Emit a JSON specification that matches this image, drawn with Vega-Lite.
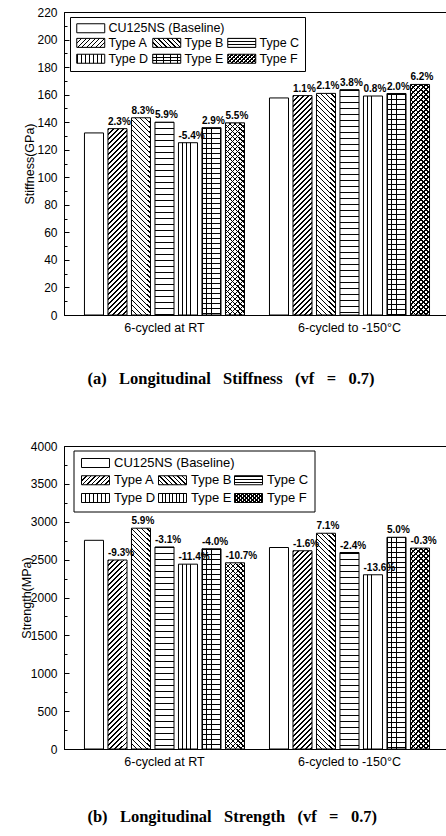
{
"$schema": "https://vega.github.io/schema/vega-lite/v6.json",
"background": "white",
"padding": {"left": 19, "top": 5, "right": 0, "bottom": 0},
"params": [
{"name": "sD", "value": [
{"offset":0,"color":"#000"},{"offset":0.006,"color":"#000"},{"offset":0.006,"color":"transparent"},{"offset":0.02,"color":"transparent"},
{"offset":0.02,"color":"#000"},{"offset":0.026,"color":"#000"},{"offset":0.026,"color":"transparent"},{"offset":0.04,"color":"transparent"},
{"offset":0.04,"color":"#000"},{"offset":0.046,"color":"#000"},{"offset":0.046,"color":"transparent"},{"offset":0.06,"color":"transparent"},
{"offset":0.06,"color":"#000"},{"offset":0.066,"color":"#000"},{"offset":0.066,"color":"transparent"},{"offset":0.08,"color":"transparent"},
{"offset":0.08,"color":"#000"},{"offset":0.086,"color":"#000"},{"offset":0.086,"color":"transparent"},{"offset":0.1,"color":"transparent"},
{"offset":0.1,"color":"#000"},{"offset":0.106,"color":"#000"},{"offset":0.106,"color":"transparent"},{"offset":0.12,"color":"transparent"},
{"offset":0.12,"color":"#000"},{"offset":0.126,"color":"#000"},{"offset":0.126,"color":"transparent"},{"offset":0.14,"color":"transparent"},
{"offset":0.14,"color":"#000"},{"offset":0.146,"color":"#000"},{"offset":0.146,"color":"transparent"},{"offset":0.16,"color":"transparent"},
{"offset":0.16,"color":"#000"},{"offset":0.166,"color":"#000"},{"offset":0.166,"color":"transparent"},{"offset":0.18,"color":"transparent"},
{"offset":0.18,"color":"#000"},{"offset":0.186,"color":"#000"},{"offset":0.186,"color":"transparent"},{"offset":0.2,"color":"transparent"},
{"offset":0.2,"color":"#000"},{"offset":0.206,"color":"#000"},{"offset":0.206,"color":"transparent"},{"offset":0.22,"color":"transparent"},
{"offset":0.22,"color":"#000"},{"offset":0.226,"color":"#000"},{"offset":0.226,"color":"transparent"},{"offset":0.24,"color":"transparent"},
{"offset":0.24,"color":"#000"},{"offset":0.246,"color":"#000"},{"offset":0.246,"color":"transparent"},{"offset":0.26,"color":"transparent"},
{"offset":0.26,"color":"#000"},{"offset":0.266,"color":"#000"},{"offset":0.266,"color":"transparent"},{"offset":0.28,"color":"transparent"},
{"offset":0.28,"color":"#000"},{"offset":0.286,"color":"#000"},{"offset":0.286,"color":"transparent"},{"offset":0.3,"color":"transparent"},
{"offset":0.3,"color":"#000"},{"offset":0.306,"color":"#000"},{"offset":0.306,"color":"transparent"},{"offset":0.32,"color":"transparent"},
{"offset":0.32,"color":"#000"},{"offset":0.326,"color":"#000"},{"offset":0.326,"color":"transparent"},{"offset":0.34,"color":"transparent"},
{"offset":0.34,"color":"#000"},{"offset":0.346,"color":"#000"},{"offset":0.346,"color":"transparent"},{"offset":0.36,"color":"transparent"},
{"offset":0.36,"color":"#000"},{"offset":0.366,"color":"#000"},{"offset":0.366,"color":"transparent"},{"offset":0.38,"color":"transparent"},
{"offset":0.38,"color":"#000"},{"offset":0.386,"color":"#000"},{"offset":0.386,"color":"transparent"},{"offset":0.4,"color":"transparent"},
{"offset":0.4,"color":"#000"},{"offset":0.406,"color":"#000"},{"offset":0.406,"color":"transparent"},{"offset":0.42,"color":"transparent"},
{"offset":0.42,"color":"#000"},{"offset":0.426,"color":"#000"},{"offset":0.426,"color":"transparent"},{"offset":0.44,"color":"transparent"},
{"offset":0.44,"color":"#000"},{"offset":0.446,"color":"#000"},{"offset":0.446,"color":"transparent"},{"offset":0.46,"color":"transparent"},
{"offset":0.46,"color":"#000"},{"offset":0.466,"color":"#000"},{"offset":0.466,"color":"transparent"},{"offset":0.48,"color":"transparent"},
{"offset":0.48,"color":"#000"},{"offset":0.486,"color":"#000"},{"offset":0.486,"color":"transparent"},{"offset":0.5,"color":"transparent"},
{"offset":0.5,"color":"#000"},{"offset":0.506,"color":"#000"},{"offset":0.506,"color":"transparent"},{"offset":0.52,"color":"transparent"},
{"offset":0.52,"color":"#000"},{"offset":0.526,"color":"#000"},{"offset":0.526,"color":"transparent"},{"offset":0.54,"color":"transparent"},
{"offset":0.54,"color":"#000"},{"offset":0.546,"color":"#000"},{"offset":0.546,"color":"transparent"},{"offset":0.56,"color":"transparent"},
{"offset":0.56,"color":"#000"},{"offset":0.566,"color":"#000"},{"offset":0.566,"color":"transparent"},{"offset":0.58,"color":"transparent"},
{"offset":0.58,"color":"#000"},{"offset":0.586,"color":"#000"},{"offset":0.586,"color":"transparent"},{"offset":0.6,"color":"transparent"},
{"offset":0.6,"color":"#000"},{"offset":0.606,"color":"#000"},{"offset":0.606,"color":"transparent"},{"offset":0.62,"color":"transparent"},
{"offset":0.62,"color":"#000"},{"offset":0.626,"color":"#000"},{"offset":0.626,"color":"transparent"},{"offset":0.64,"color":"transparent"},
{"offset":0.64,"color":"#000"},{"offset":0.646,"color":"#000"},{"offset":0.646,"color":"transparent"},{"offset":0.66,"color":"transparent"},
{"offset":0.66,"color":"#000"},{"offset":0.666,"color":"#000"},{"offset":0.666,"color":"transparent"},{"offset":0.68,"color":"transparent"},
{"offset":0.68,"color":"#000"},{"offset":0.686,"color":"#000"},{"offset":0.686,"color":"transparent"},{"offset":0.7,"color":"transparent"},
{"offset":0.7,"color":"#000"},{"offset":0.706,"color":"#000"},{"offset":0.706,"color":"transparent"},{"offset":0.72,"color":"transparent"},
{"offset":0.72,"color":"#000"},{"offset":0.726,"color":"#000"},{"offset":0.726,"color":"transparent"},{"offset":0.74,"color":"transparent"},
{"offset":0.74,"color":"#000"},{"offset":0.746,"color":"#000"},{"offset":0.746,"color":"transparent"},{"offset":0.76,"color":"transparent"},
{"offset":0.76,"color":"#000"},{"offset":0.766,"color":"#000"},{"offset":0.766,"color":"transparent"},{"offset":0.78,"color":"transparent"},
{"offset":0.78,"color":"#000"},{"offset":0.786,"color":"#000"},{"offset":0.786,"color":"transparent"},{"offset":0.8,"color":"transparent"},
{"offset":0.8,"color":"#000"},{"offset":0.806,"color":"#000"},{"offset":0.806,"color":"transparent"},{"offset":0.82,"color":"transparent"},
{"offset":0.82,"color":"#000"},{"offset":0.826,"color":"#000"},{"offset":0.826,"color":"transparent"},{"offset":0.84,"color":"transparent"},
{"offset":0.84,"color":"#000"},{"offset":0.846,"color":"#000"},{"offset":0.846,"color":"transparent"},{"offset":0.86,"color":"transparent"},
{"offset":0.86,"color":"#000"},{"offset":0.866,"color":"#000"},{"offset":0.866,"color":"transparent"},{"offset":0.88,"color":"transparent"},
{"offset":0.88,"color":"#000"},{"offset":0.886,"color":"#000"},{"offset":0.886,"color":"transparent"},{"offset":0.9,"color":"transparent"},
{"offset":0.9,"color":"#000"},{"offset":0.906,"color":"#000"},{"offset":0.906,"color":"transparent"},{"offset":0.92,"color":"transparent"},
{"offset":0.92,"color":"#000"},{"offset":0.926,"color":"#000"},{"offset":0.926,"color":"transparent"},{"offset":0.94,"color":"transparent"},
{"offset":0.94,"color":"#000"},{"offset":0.946,"color":"#000"},{"offset":0.946,"color":"transparent"},{"offset":0.96,"color":"transparent"},
{"offset":0.96,"color":"#000"},{"offset":0.966,"color":"#000"},{"offset":0.966,"color":"transparent"},{"offset":0.98,"color":"transparent"},
{"offset":0.98,"color":"#000"},{"offset":0.986,"color":"#000"},{"offset":0.986,"color":"transparent"},{"offset":1,"color":"transparent"}
]},
{"name": "sH", "value": [
{"offset":0,"color":"#000"},{"offset":0.004,"color":"#000"},{"offset":0.004,"color":"transparent"},{"offset":0.02,"color":"transparent"},
{"offset":0.02,"color":"#000"},{"offset":0.024,"color":"#000"},{"offset":0.024,"color":"transparent"},{"offset":0.04,"color":"transparent"},
{"offset":0.04,"color":"#000"},{"offset":0.044,"color":"#000"},{"offset":0.044,"color":"transparent"},{"offset":0.06,"color":"transparent"},
{"offset":0.06,"color":"#000"},{"offset":0.064,"color":"#000"},{"offset":0.064,"color":"transparent"},{"offset":0.08,"color":"transparent"},
{"offset":0.08,"color":"#000"},{"offset":0.084,"color":"#000"},{"offset":0.084,"color":"transparent"},{"offset":0.1,"color":"transparent"},
{"offset":0.1,"color":"#000"},{"offset":0.104,"color":"#000"},{"offset":0.104,"color":"transparent"},{"offset":0.12,"color":"transparent"},
{"offset":0.12,"color":"#000"},{"offset":0.124,"color":"#000"},{"offset":0.124,"color":"transparent"},{"offset":0.14,"color":"transparent"},
{"offset":0.14,"color":"#000"},{"offset":0.144,"color":"#000"},{"offset":0.144,"color":"transparent"},{"offset":0.16,"color":"transparent"},
{"offset":0.16,"color":"#000"},{"offset":0.164,"color":"#000"},{"offset":0.164,"color":"transparent"},{"offset":0.18,"color":"transparent"},
{"offset":0.18,"color":"#000"},{"offset":0.184,"color":"#000"},{"offset":0.184,"color":"transparent"},{"offset":0.2,"color":"transparent"},
{"offset":0.2,"color":"#000"},{"offset":0.204,"color":"#000"},{"offset":0.204,"color":"transparent"},{"offset":0.22,"color":"transparent"},
{"offset":0.22,"color":"#000"},{"offset":0.224,"color":"#000"},{"offset":0.224,"color":"transparent"},{"offset":0.24,"color":"transparent"},
{"offset":0.24,"color":"#000"},{"offset":0.244,"color":"#000"},{"offset":0.244,"color":"transparent"},{"offset":0.26,"color":"transparent"},
{"offset":0.26,"color":"#000"},{"offset":0.264,"color":"#000"},{"offset":0.264,"color":"transparent"},{"offset":0.28,"color":"transparent"},
{"offset":0.28,"color":"#000"},{"offset":0.284,"color":"#000"},{"offset":0.284,"color":"transparent"},{"offset":0.3,"color":"transparent"},
{"offset":0.3,"color":"#000"},{"offset":0.304,"color":"#000"},{"offset":0.304,"color":"transparent"},{"offset":0.32,"color":"transparent"},
{"offset":0.32,"color":"#000"},{"offset":0.324,"color":"#000"},{"offset":0.324,"color":"transparent"},{"offset":0.34,"color":"transparent"},
{"offset":0.34,"color":"#000"},{"offset":0.344,"color":"#000"},{"offset":0.344,"color":"transparent"},{"offset":0.36,"color":"transparent"},
{"offset":0.36,"color":"#000"},{"offset":0.364,"color":"#000"},{"offset":0.364,"color":"transparent"},{"offset":0.38,"color":"transparent"},
{"offset":0.38,"color":"#000"},{"offset":0.384,"color":"#000"},{"offset":0.384,"color":"transparent"},{"offset":0.4,"color":"transparent"},
{"offset":0.4,"color":"#000"},{"offset":0.404,"color":"#000"},{"offset":0.404,"color":"transparent"},{"offset":0.42,"color":"transparent"},
{"offset":0.42,"color":"#000"},{"offset":0.424,"color":"#000"},{"offset":0.424,"color":"transparent"},{"offset":0.44,"color":"transparent"},
{"offset":0.44,"color":"#000"},{"offset":0.444,"color":"#000"},{"offset":0.444,"color":"transparent"},{"offset":0.46,"color":"transparent"},
{"offset":0.46,"color":"#000"},{"offset":0.464,"color":"#000"},{"offset":0.464,"color":"transparent"},{"offset":0.48,"color":"transparent"},
{"offset":0.48,"color":"#000"},{"offset":0.484,"color":"#000"},{"offset":0.484,"color":"transparent"},{"offset":0.5,"color":"transparent"},
{"offset":0.5,"color":"#000"},{"offset":0.504,"color":"#000"},{"offset":0.504,"color":"transparent"},{"offset":0.52,"color":"transparent"},
{"offset":0.52,"color":"#000"},{"offset":0.524,"color":"#000"},{"offset":0.524,"color":"transparent"},{"offset":0.54,"color":"transparent"},
{"offset":0.54,"color":"#000"},{"offset":0.544,"color":"#000"},{"offset":0.544,"color":"transparent"},{"offset":0.56,"color":"transparent"},
{"offset":0.56,"color":"#000"},{"offset":0.564,"color":"#000"},{"offset":0.564,"color":"transparent"},{"offset":0.58,"color":"transparent"},
{"offset":0.58,"color":"#000"},{"offset":0.584,"color":"#000"},{"offset":0.584,"color":"transparent"},{"offset":0.6,"color":"transparent"},
{"offset":0.6,"color":"#000"},{"offset":0.604,"color":"#000"},{"offset":0.604,"color":"transparent"},{"offset":0.62,"color":"transparent"},
{"offset":0.62,"color":"#000"},{"offset":0.624,"color":"#000"},{"offset":0.624,"color":"transparent"},{"offset":0.64,"color":"transparent"},
{"offset":0.64,"color":"#000"},{"offset":0.644,"color":"#000"},{"offset":0.644,"color":"transparent"},{"offset":0.66,"color":"transparent"},
{"offset":0.66,"color":"#000"},{"offset":0.664,"color":"#000"},{"offset":0.664,"color":"transparent"},{"offset":0.68,"color":"transparent"},
{"offset":0.68,"color":"#000"},{"offset":0.684,"color":"#000"},{"offset":0.684,"color":"transparent"},{"offset":0.7,"color":"transparent"},
{"offset":0.7,"color":"#000"},{"offset":0.704,"color":"#000"},{"offset":0.704,"color":"transparent"},{"offset":0.72,"color":"transparent"},
{"offset":0.72,"color":"#000"},{"offset":0.724,"color":"#000"},{"offset":0.724,"color":"transparent"},{"offset":0.74,"color":"transparent"},
{"offset":0.74,"color":"#000"},{"offset":0.744,"color":"#000"},{"offset":0.744,"color":"transparent"},{"offset":0.76,"color":"transparent"},
{"offset":0.76,"color":"#000"},{"offset":0.764,"color":"#000"},{"offset":0.764,"color":"transparent"},{"offset":0.78,"color":"transparent"},
{"offset":0.78,"color":"#000"},{"offset":0.784,"color":"#000"},{"offset":0.784,"color":"transparent"},{"offset":0.8,"color":"transparent"},
{"offset":0.8,"color":"#000"},{"offset":0.804,"color":"#000"},{"offset":0.804,"color":"transparent"},{"offset":0.82,"color":"transparent"},
{"offset":0.82,"color":"#000"},{"offset":0.824,"color":"#000"},{"offset":0.824,"color":"transparent"},{"offset":0.84,"color":"transparent"},
{"offset":0.84,"color":"#000"},{"offset":0.844,"color":"#000"},{"offset":0.844,"color":"transparent"},{"offset":0.86,"color":"transparent"},
{"offset":0.86,"color":"#000"},{"offset":0.864,"color":"#000"},{"offset":0.864,"color":"transparent"},{"offset":0.88,"color":"transparent"},
{"offset":0.88,"color":"#000"},{"offset":0.884,"color":"#000"},{"offset":0.884,"color":"transparent"},{"offset":0.9,"color":"transparent"},
{"offset":0.9,"color":"#000"},{"offset":0.904,"color":"#000"},{"offset":0.904,"color":"transparent"},{"offset":0.92,"color":"transparent"},
{"offset":0.92,"color":"#000"},{"offset":0.924,"color":"#000"},{"offset":0.924,"color":"transparent"},{"offset":0.94,"color":"transparent"},
{"offset":0.94,"color":"#000"},{"offset":0.944,"color":"#000"},{"offset":0.944,"color":"transparent"},{"offset":0.96,"color":"transparent"},
{"offset":0.96,"color":"#000"},{"offset":0.964,"color":"#000"},{"offset":0.964,"color":"transparent"},{"offset":0.98,"color":"transparent"},
{"offset":0.98,"color":"#000"},{"offset":0.984,"color":"#000"},{"offset":0.984,"color":"transparent"},{"offset":1,"color":"transparent"}
]}
],
"datasets": {
"stiff": [
{"cond":"6-cycled at RT","type":"CU125NS (Baseline)","value":132.2,"label":""},
{"cond":"6-cycled at RT","type":"Type A","value":135.3,"label":"2.3%"},
{"cond":"6-cycled at RT","type":"Type B","value":143.2,"label":"8.3%"},
{"cond":"6-cycled at RT","type":"Type C","value":140.0,"label":"5.9%"},
{"cond":"6-cycled at RT","type":"Type D","value":125.1,"label":"-5.4%"},
{"cond":"6-cycled at RT","type":"Type E","value":136.0,"label":"2.9%"},
{"cond":"6-cycled at RT","type":"Type F","value":139.5,"label":"5.5%"},
{"cond":"6-cycled to -150°C","type":"CU125NS (Baseline)","value":157.6,"label":""},
{"cond":"6-cycled to -150°C","type":"Type A","value":159.3,"label":"1.1%"},
{"cond":"6-cycled to -150°C","type":"Type B","value":160.9,"label":"2.1%"},
{"cond":"6-cycled to -150°C","type":"Type C","value":163.6,"label":"3.8%"},
{"cond":"6-cycled to -150°C","type":"Type D","value":159.0,"label":"0.8%"},
{"cond":"6-cycled to -150°C","type":"Type E","value":160.8,"label":"2.0%"},
{"cond":"6-cycled to -150°C","type":"Type F","value":167.4,"label":"6.2%"}
],
"str": [
{"cond":"6-cycled at RT","type":"CU125NS (Baseline)","value":2755,"label":""},
{"cond":"6-cycled at RT","type":"Type A","value":2495,"label":"-9.3%"},
{"cond":"6-cycled at RT","type":"Type B","value":2915,"label":"5.9%"},
{"cond":"6-cycled at RT","type":"Type C","value":2667,"label":"-3.1%"},
{"cond":"6-cycled at RT","type":"Type D","value":2440,"label":"-11.4%"},
{"cond":"6-cycled at RT","type":"Type E","value":2642,"label":"-4.0%"},
{"cond":"6-cycled at RT","type":"Type F","value":2458,"label":"-10.7%"},
{"cond":"6-cycled to -150°C","type":"CU125NS (Baseline)","value":2660,"label":""},
{"cond":"6-cycled to -150°C","type":"Type A","value":2617,"label":"-1.6%"},
{"cond":"6-cycled to -150°C","type":"Type B","value":2848,"label":"7.1%"},
{"cond":"6-cycled to -150°C","type":"Type C","value":2594,"label":"-2.4%"},
{"cond":"6-cycled to -150°C","type":"Type D","value":2300,"label":"-13.6%"},
{"cond":"6-cycled to -150°C","type":"Type E","value":2795,"label":"5.0%"},
{"cond":"6-cycled to -150°C","type":"Type F","value":2652,"label":"-0.3%"}
]
},
"vconcat": [
{
"width": 383, "height": 303,
"data": {"name": "stiff"},
"resolve": {"scale": {"fill": "independent"}, "legend": {"fill": "independent"}},
"encoding": {
"x": {"field": "cond", "type": "nominal",
 "scale": {"domain": ["6-cycled at RT", "6-cycled to -150°C"], "paddingInner": 0, "paddingOuter": 0.0351, "align": 0.615},
 "axis": {"title": "(a) \u00a0\u00a0Longitudinal \u00a0\u00a0Stiffness \u00a0\u00a0(vf \u00a0\u00a0= \u00a0\u00a00.7)", "labelAngle": 0, "ticks": false, "labelFontSize": 12.5, "labelPadding": 6,
  "titleFont": "Liberation Serif", "titleFontSize": 16.5, "titleFontWeight": "bold", "titleX": 166.5, "titleY": 63.5, "titleBaseline": "middle", "titleAlign": "center"}},
"xOffset": {"field": "type", "type": "nominal",
 "scale": {"domain": ["CU125NS (Baseline)", "Type A", "Type B", "Type C", "Type D", "Type E", "Type F"], "paddingInner": 0.19, "paddingOuter": 0.531}},
"y": {"field": "value", "type": "quantitative",
 "scale": {"domain": [0, 220], "nice": false},
 "axis": {"title": "Stiffness(GPa)", "format": "d", "values": [0,10,20,30,40,50,60,70,80,90,100,110,120,130,140,150,160,170,180,190,200,210,220],
  "labelExpr": "datum.value % 20 === 0 ? datum.label : ''",
  "tickSize": {"expr": "datum.value % 20 === 0 ? -5 : -3"},
  "labelPadding": 12, "labelFontSize": 12, "labelOverlap": false, "labelFlush": false, "labelBound": false,
  "titleFontSize": 12.5, "titleFontWeight": "normal", "titleX": -35, "titleBaseline": "middle"}}
},
"layer": [
{"transform": [{"filter": "datum.type != 'CU125NS (Baseline)'"}],
 "mark": {"type": "bar", "stroke": null,
  "fill": {"expr": "datum.type=='Type A'||datum.type=='Type F' ? {gradient:'linear',x1:0,y1:0,x2:4750/(361+pow(datum.value*1.3773,2)),y2:250*datum.value*1.3773/(361+pow(datum.value*1.3773,2)),stops:sD} : datum.type=='Type B' ? {gradient:'linear',x1:0,y1:1,x2:4750/(361+pow(datum.value*1.3773,2)),y2:1-250*datum.value*1.3773/(361+pow(datum.value*1.3773,2)),stops:sD} : datum.type=='Type C' ? {gradient:'linear',x1:0,y1:0,x2:0,y2:300/(datum.value*1.3773),stops:sH} : datum.type=='Type D' ? {gradient:'linear',x1:0,y1:0,x2:10.526,y2:0,stops:sH} : {gradient:'linear',x1:0,y1:0,x2:11.842,y2:0,stops:sH}"}}},
{"transform": [{"filter": "datum.type == 'Type E' || datum.type == 'Type F'"}],
 "mark": {"type": "bar", "stroke": null,
  "fill": {"expr": "datum.type=='Type E' ? {gradient:'linear',x1:0,y1:0,x2:0,y2:250/(datum.value*1.3773),stops:sH} : {gradient:'linear',x1:0,y1:1,x2:4750/(361+pow(datum.value*1.3773,2)),y2:1-250*datum.value*1.3773/(361+pow(datum.value*1.3773,2)),stops:sD}"}}},
{"transform": [{"filter": "datum.type != 'CU125NS (Baseline)'"}],
 "mark": {"type": "bar", "opacity": 0, "stroke": null},
 "encoding": {"fill": {"field": "type", "type": "nominal",
  "scale": {"domain": ["Type A", "Type B", "Type C", "Type D", "Type E", "Type F"],
   "range": [
    {"expr": "{gradient:'linear',x1:0,y1:0,x2:7.283,y2:2.341,stops:sD}"},
    {"expr": "{gradient:'linear',x1:0,y1:1,x2:7.283,y2:-1.341,stops:sD}"},
    {"expr": "{gradient:'linear',x1:0,y1:0,x2:0,y2:16.67,stops:sD}"},
    {"expr": "{gradient:'linear',x1:0,y1:0,x2:7.143,y2:0,stops:sH}"},
    {"expr": "{gradient:'linear',x1:0,y1:0,x2:6.25,y2:0,stops:sH}"},
    {"expr": "{gradient:'linear',x1:0,y1:0,x2:6.474,y2:2.081,stops:sD}"}]},
  "legend": {"title": "\u00a0", "titleFontSize": 12.5, "titlePadding": 2, "titleAnchor": "start", "orient": "none", "legendX": 6, "legendY": 5, "columns": 3, "direction": "horizontal",
   "symbolType": "M-1,-1H5.222V1H-1Z", "symbolSize": 81, "symbolOpacity": 1, "symbolStrokeColor": "black", "symbolStrokeWidth": 1,
   "labelFont": "Liberation Sans", "labelFontSize": 12.5, "labelColor": "black", "labelOffset": 21, "labelLimit": 300,
   "columnPadding": 1, "rowPadding": 2, "padding": 5, "strokeColor": "black", "fillColor": "white"}}}},
{"transform": [{"filter": "datum.type != 'CU125NS (Baseline)'"}],
 "mark": {"type": "bar", "opacity": 0, "stroke": null},
 "encoding": {"fill": {"field": "type", "type": "nominal",
  "scale": {"domain": ["Type A", "Type B", "Type C", "Type D", "Type E", "Type F"],
   "range": ["transparent", "transparent", "transparent", "transparent",
    {"expr": "{gradient:'linear',x1:0,y1:0,x2:0,y2:16.67,stops:sD}"},
    {"expr": "{gradient:'linear',x1:0,y1:1,x2:6.474,y2:-1.081,stops:sD}"}]},
  "legend": {"title": "\u00a0", "titleFontSize": 12.5, "titlePadding": 2, "titleAnchor": "start", "orient": "none", "legendX": 6, "legendY": 5, "columns": 3, "direction": "horizontal",
   "symbolType": "M-1,-1H5.222V1H-1Z", "symbolSize": 81, "symbolOpacity": 1, "symbolStrokeColor": "transparent", "symbolStrokeWidth": 1,
   "labelFont": "Liberation Sans", "labelFontSize": 12.5, "labelColor": "transparent", "labelOffset": 21, "labelLimit": 300,
   "columnPadding": 1, "rowPadding": 2, "padding": 5, "strokeColor": "transparent", "fillColor": "transparent"}}}},
{"transform": [{"filter": "datum.type == 'CU125NS (Baseline)'"}],
 "mark": {"type": "bar", "opacity": 0, "stroke": null},
 "encoding": {"fill": {"field": "type", "type": "nominal",
  "scale": {"domain": ["CU125NS (Baseline)"], "range": ["white"]},
  "legend": {"title": null, "orient": "none", "legendX": 6, "legendY": 5,
   "symbolType": "M-1,-1H5.222V1H-1Z", "symbolSize": 81, "symbolOpacity": 1, "symbolStrokeColor": "black", "symbolStrokeWidth": 1,
   "labelFont": "Liberation Sans", "labelFontSize": 12.5, "labelColor": "black", "labelOffset": 21, "labelLimit": 300,
   "padding": 5, "strokeColor": "transparent", "fillColor": "transparent"}}}},
{"mark": {"type": "bar", "fill": "transparent", "stroke": "black", "strokeWidth": 1}},
{"mark": {"type": "text", "font": "Liberation Sans", "fontWeight": "bold", "fontSize": 10, "align": "left", "baseline": "alphabetic", "dx": -9.5, "dy": -4, "color": "black"},
 "encoding": {"text": {"field": "label"}}}
]
},
{
"width": 383, "height": 303,
"data": {"name": "str"},
"resolve": {"scale": {"fill": "independent"}, "legend": {"fill": "independent"}},
"encoding": {
"x": {"field": "cond", "type": "nominal",
 "scale": {"domain": ["6-cycled at RT", "6-cycled to -150°C"], "paddingInner": 0, "paddingOuter": 0.0351, "align": 0.615},
 "axis": {"title": "(b) \u00a0\u00a0Longitudinal \u00a0\u00a0Strength \u00a0\u00a0(vf \u00a0\u00a0= \u00a0\u00a00.7)", "labelAngle": 0, "ticks": false, "labelFontSize": 12.5, "labelPadding": 6,
  "titleFont": "Liberation Serif", "titleFontSize": 16.5, "titleFontWeight": "bold", "titleX": 167.7, "titleY": 67.5, "titleBaseline": "middle", "titleAlign": "center"}},
"xOffset": {"field": "type", "type": "nominal",
 "scale": {"domain": ["CU125NS (Baseline)", "Type A", "Type B", "Type C", "Type D", "Type E", "Type F"], "paddingInner": 0.19, "paddingOuter": 0.531}},
"y": {"field": "value", "type": "quantitative",
 "scale": {"domain": [0, 4000], "nice": false},
 "axis": {"title": "Strength(MPa)", "format": "d", "values": [0,250,500,750,1000,1250,1500,1750,2000,2250,2500,2750,3000,3250,3500,3750,4000],
  "labelExpr": "datum.value % 500 === 0 ? datum.label : ''",
  "tickSize": {"expr": "datum.value % 500 === 0 ? -5 : -3"},
  "labelPadding": 12, "labelFontSize": 12, "labelOverlap": false, "labelFlush": false, "labelBound": false,
  "titleFontSize": 12.5, "titleFontWeight": "normal", "titleX": -38, "titleBaseline": "middle"}}
},
"layer": [
{"transform": [{"filter": "datum.type != 'CU125NS (Baseline)'"}],
 "mark": {"type": "bar", "stroke": null,
  "fill": {"expr": "datum.type=='Type A'||datum.type=='Type F' ? {gradient:'linear',x1:0,y1:0,x2:4750/(361+pow(datum.value*0.07575,2)),y2:250*datum.value*0.07575/(361+pow(datum.value*0.07575,2)),stops:sD} : datum.type=='Type B' ? {gradient:'linear',x1:0,y1:1,x2:4750/(361+pow(datum.value*0.07575,2)),y2:1-250*datum.value*0.07575/(361+pow(datum.value*0.07575,2)),stops:sD} : datum.type=='Type C' ? {gradient:'linear',x1:0,y1:0,x2:0,y2:300/(datum.value*0.07575),stops:sH} : datum.type=='Type D' ? {gradient:'linear',x1:0,y1:0,x2:10.526,y2:0,stops:sH} : {gradient:'linear',x1:0,y1:0,x2:11.842,y2:0,stops:sH}"}}},
{"transform": [{"filter": "datum.type == 'Type E' || datum.type == 'Type F'"}],
 "mark": {"type": "bar", "stroke": null,
  "fill": {"expr": "datum.type=='Type E' ? {gradient:'linear',x1:0,y1:0,x2:0,y2:250/(datum.value*0.07575),stops:sH} : {gradient:'linear',x1:0,y1:1,x2:4750/(361+pow(datum.value*0.07575,2)),y2:1-250*datum.value*0.07575/(361+pow(datum.value*0.07575,2)),stops:sD}"}}},
{"transform": [{"filter": "datum.type != 'CU125NS (Baseline)'"}],
 "mark": {"type": "bar", "opacity": 0, "stroke": null},
 "encoding": {"fill": {"field": "type", "type": "nominal",
  "scale": {"domain": ["Type A", "Type B", "Type C", "Type D", "Type E", "Type F"],
   "range": [
    {"expr": "{gradient:'linear',x1:0,y1:0,x2:7.283,y2:2.341,stops:sD}"},
    {"expr": "{gradient:'linear',x1:0,y1:1,x2:7.283,y2:-1.341,stops:sD}"},
    {"expr": "{gradient:'linear',x1:0,y1:0,x2:0,y2:16.67,stops:sD}"},
    {"expr": "{gradient:'linear',x1:0,y1:0,x2:7.143,y2:0,stops:sH}"},
    {"expr": "{gradient:'linear',x1:0,y1:0,x2:6.25,y2:0,stops:sH}"},
    {"expr": "{gradient:'linear',x1:0,y1:0,x2:6.474,y2:2.081,stops:sD}"}]},
  "legend": {"title": "\u00a0", "titleFontSize": 13, "titlePadding": 4, "titleAnchor": "start", "orient": "none", "legendX": 9.5, "legendY": 4.5, "columns": 3, "direction": "horizontal",
   "symbolType": "M-1,-1H5.222V1H-1Z", "symbolSize": 81, "symbolOpacity": 1, "symbolStrokeColor": "black", "symbolStrokeWidth": 1,
   "labelFont": "Liberation Sans", "labelFontSize": 13, "labelColor": "black", "labelOffset": 21.5, "labelLimit": 300,
   "columnPadding": 1, "rowPadding": 4, "padding": 6, "strokeColor": "black", "fillColor": "white"}}}},
{"transform": [{"filter": "datum.type != 'CU125NS (Baseline)'"}],
 "mark": {"type": "bar", "opacity": 0, "stroke": null},
 "encoding": {"fill": {"field": "type", "type": "nominal",
  "scale": {"domain": ["Type A", "Type B", "Type C", "Type D", "Type E", "Type F"],
   "range": ["transparent", "transparent", "transparent", "transparent",
    {"expr": "{gradient:'linear',x1:0,y1:0,x2:0,y2:16.67,stops:sD}"},
    {"expr": "{gradient:'linear',x1:0,y1:1,x2:6.474,y2:-1.081,stops:sD}"}]},
  "legend": {"title": "\u00a0", "titleFontSize": 13, "titlePadding": 4, "titleAnchor": "start", "orient": "none", "legendX": 9.5, "legendY": 4.5, "columns": 3, "direction": "horizontal",
   "symbolType": "M-1,-1H5.222V1H-1Z", "symbolSize": 81, "symbolOpacity": 1, "symbolStrokeColor": "transparent", "symbolStrokeWidth": 1,
   "labelFont": "Liberation Sans", "labelFontSize": 13, "labelColor": "transparent", "labelOffset": 21.5, "labelLimit": 300,
   "columnPadding": 1, "rowPadding": 4, "padding": 6, "strokeColor": "transparent", "fillColor": "transparent"}}}},
{"transform": [{"filter": "datum.type == 'CU125NS (Baseline)'"}],
 "mark": {"type": "bar", "opacity": 0, "stroke": null},
 "encoding": {"fill": {"field": "type", "type": "nominal",
  "scale": {"domain": ["CU125NS (Baseline)"], "range": ["white"]},
  "legend": {"title": null, "orient": "none", "legendX": 9.5, "legendY": 4.5,
   "symbolType": "M-1,-1H5.222V1H-1Z", "symbolSize": 81, "symbolOpacity": 1, "symbolStrokeColor": "black", "symbolStrokeWidth": 1,
   "labelFont": "Liberation Sans", "labelFontSize": 13, "labelColor": "black", "labelOffset": 21.5, "labelLimit": 300,
   "padding": 6, "strokeColor": "transparent", "fillColor": "transparent"}}}},
{"mark": {"type": "bar", "fill": "transparent", "stroke": "black", "strokeWidth": 1}},
{"mark": {"type": "text", "font": "Liberation Sans", "fontWeight": "bold", "fontSize": 10, "align": "left", "baseline": "alphabetic", "dx": -9.5, "dy": -4, "color": "black"},
 "encoding": {"text": {"field": "label"}}}
]
}
],
"spacing": 131,
"bounds": "flush",
"resolve": {"scale": {"fill": "independent", "x": "independent", "y": "independent", "xOffset": "independent"}, "legend": {"fill": "independent"}},
"config": {
"view": {"stroke": "black", "strokeWidth": 1},
"font": "Liberation Sans",
"axis": {"labelFont": "Liberation Sans", "titleFont": "Liberation Sans", "labelColor": "black", "titleColor": "black", "domainColor": "black", "tickColor": "black", "grid": false, "domainWidth": 1}
}
}
